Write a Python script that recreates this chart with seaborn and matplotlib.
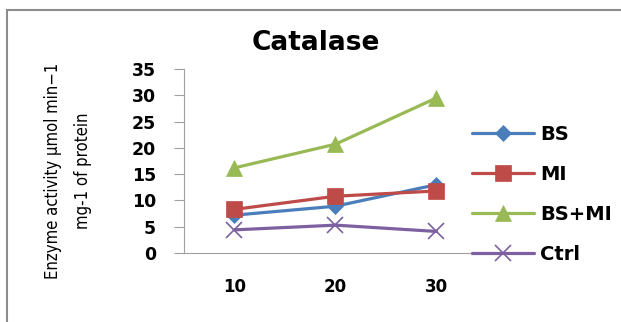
import matplotlib
matplotlib.use("Agg")
import matplotlib.pyplot as plt
from matplotlib.patches import Rectangle
import seaborn as sns
import pandas as pd

# data
days = [10, 20, 30]
bs = [7.2, 8.9, 13.0]
mi = [8.3, 10.8, 11.8]
bs_mi = [16.2, 20.7, 29.5]
ctrl = [4.4, 5.3, 4.1]
series_names = ["BS", "MI", "BS+MI", "Ctrl"]
y_ticks = [0, 5, 10, 15, 20, 25, 30, 35]

colors = {"BS": "#4A7EBB", "MI": "#BE4B48", "BS+MI": "#98B954", "Ctrl": "#7D60A0"}
markers = {"BS": "D", "MI": "s", "BS+MI": "^", "Ctrl": "x"}
msizes = {"BS": 8, "MI": 11, "BS+MI": 12, "Ctrl": 11}

sns.set_theme(style="white")
plt.rcParams["font.family"] = ["DejaVu Sans"]
plt.rcParams["text.color"] = "black"
plt.rcParams["xtick.color"] = "black"
plt.rcParams["ytick.color"] = "black"

df = pd.DataFrame(
    {"day": days * 4,
     "value": bs + mi + bs_mi + ctrl,
     "series": [n for n in series_names for _ in days]}
)

fig = plt.figure(figsize=(6.21, 3.22), dpi=100)
ax = fig.add_axes([184 / 621, 1 - 253 / 322, (487 - 184) / 621, (253 - 69) / 322])

for name in series_names:
    sub = df[df["series"] == name]
    sns.lineplot(
        data=sub, x="day", y="value", ax=ax, color=colors[name],
        marker=markers[name], markersize=msizes[name], linewidth=2.3,
        markeredgecolor=colors[name], markeredgewidth=1.2 if name == "Ctrl" else 0.5,
        label=name,
    )

ax.set_xlim(5, 35)
ax.set_ylim(0, 35)
ax.set_xticks(days)
ax.set_xticklabels([str(d) for d in days], fontsize=12, fontweight="bold")
ax.set_yticks(y_ticks)
ax.set_yticklabels([str(t) for t in y_ticks], fontsize=12.5, fontweight="bold")
ax.tick_params(axis="y", length=7, width=0.8, color="#A0A0A0", pad=13, left=True,
               labelcolor="black")
ax.tick_params(axis="x", length=0, pad=18, labelcolor="black")
ax.set_xlabel("")
ax.set_ylabel("")
for s in ["top", "right"]:
    ax.spines[s].set_visible(False)
for s in ["left", "bottom"]:
    ax.spines[s].set_color("#A0A0A0")
    ax.spines[s].set_linewidth(0.8)

fig.text(316 / 621, 1 - 43 / 322, "Catalase", fontsize=19, fontweight="bold",
         ha="center", va="center", color="black")

handles, labels = ax.get_legend_handles_labels()
ax.get_legend().remove()
leg = fig.legend(
    handles, labels, loc="center left", bbox_to_anchor=(472 / 621, 1 - 194 / 322),
    frameon=False, handlelength=3.2, labelspacing=1.08, handletextpad=0.3,
    borderpad=0, borderaxespad=0,
    prop={"weight": "bold", "size": 14},
)

fig.text(
    68 / 621, 1 - 171 / 322,
    "Enzyme activity \u03bcmol min\u22121\nmg-1 of protein",
    rotation=90, ha="center", va="center", multialignment="center",
    fontsize=12, fontstretch="condensed", linespacing=1.85, color="black",
    family=["DejaVu Sans"],
)

# outer chart border
top = 1 - 10 / 322
fig.patches.append(Rectangle((7 / 621, -0.2), 1.2, top + 0.2,
                             transform=fig.transFigure, fill=False,
                             edgecolor="#8C8C8C", linewidth=1.5))

fig.savefig("out.png", dpi=100)
